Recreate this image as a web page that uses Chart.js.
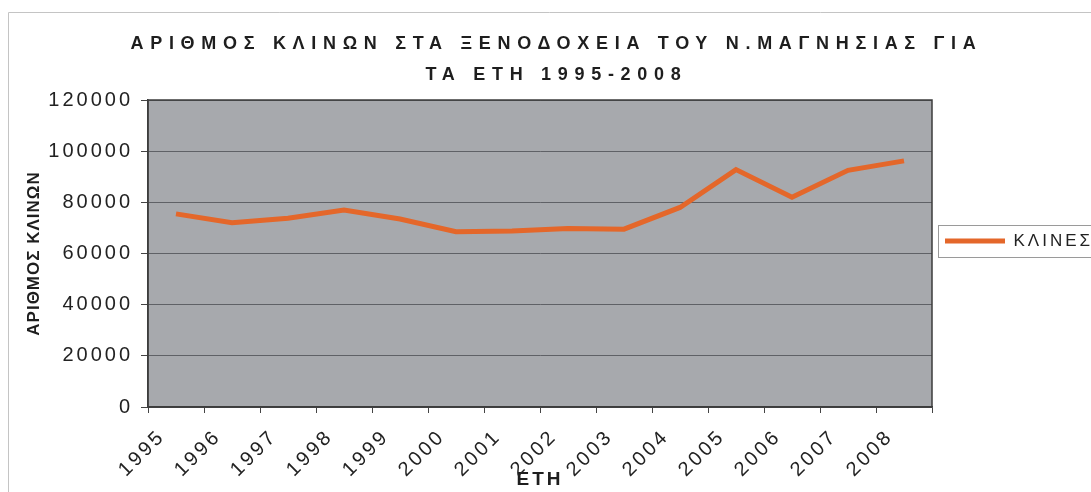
<!DOCTYPE html>
<html>
<head>
<meta charset="utf-8">
<script src="https://cdn.jsdelivr.net/npm/chart.js@4.4.1/dist/chart.umd.min.js"></script>
<style>
html, body { margin: 0; padding: 0; background: #fff; }
#wrap { position: relative; width: 1091px; height: 492px; }
#title {
    position: absolute; left: 0; top: 28px; width: 1069px; padding-left: 22px;
    text-align: center; font: bold 18px "Liberation Sans", Arial, sans-serif;
    letter-spacing: 6.7px; line-height: 31px; color: #1e1e1e;
}
</style>
</head>
<body>
<div id="wrap">
<canvas id="chart" width="1091" height="492"></canvas>
<div id="title">ΑΡΙΘΜΟΣ ΚΛΙΝΩΝ ΣΤΑ ΞΕΝΟΔΟΧΕΙΑ ΤΟΥ Ν.ΜΑΓΝΗΣΙΑΣ ΓΙΑ<br>ΤΑ ΕΤΗ 1995-2008</div>
</div>
<script>
var years = ['1995', '1996', '1997', '1998', '1999', '2000', '2001',
             '2002', '2003', '2004', '2005', '2006', '2007', '2008'];
var beds = [75500, 72000, 73800, 77000, 73500, 68500, 68800,
            69800, 69500, 78000, 92800, 82000, 92500, 96200];
var yMax = 120000;
var yStep = 20000;

var FONT = '"Liberation Sans", Arial, sans-serif';
var SPACING = '3px';

// spacing, plot background, frames, legend box
var plotFrame = {
    id: 'plotFrame',
    beforeUpdate: function(chart) {
        chart.ctx.letterSpacing = SPACING;
    },
    afterLayout: function(chart) {
        var lg = chart.legend;
        lg.top -= 55; lg.bottom -= 55;
        lg.left += 3; lg.right += 3;
    },
    beforeDraw: function(chart) {
        var ctx = chart.ctx, a = chart.chartArea;
        ctx.letterSpacing = SPACING;
        ctx.save();
        ctx.strokeStyle = '#c4c4c4';
        ctx.lineWidth = 1;
        ctx.beginPath();
        ctx.moveTo(8.5, 492); ctx.lineTo(8.5, 12.5); ctx.lineTo(1091, 12.5);
        ctx.stroke();
        ctx.fillStyle = '#a7a9ad';
        ctx.fillRect(a.left, a.top, a.right - a.left, a.bottom - a.top);
        ctx.restore();
    },
    afterDraw: function(chart) {
        var ctx = chart.ctx, a = chart.chartArea;
        ctx.save();
        ctx.strokeStyle = '#3c3c3c';
        ctx.lineWidth = 1.5;
        ctx.strokeRect(a.left, a.top, a.right - a.left, a.bottom - a.top);
        var hb = chart.legend.legendHitBoxes[0];
        if (hb) {
            var cy = hb.top + hb.height / 2;
            ctx.strokeStyle = '#9a9a9a';
            ctx.lineWidth = 1;
            ctx.strokeRect(Math.round(hb.left - 7) + 0.5, Math.round(cy - 16) + 0.5, 1100, 32);
        }
        ctx.restore();
    }
};

// y title is set tighter than the rest
function tightTitle(s) {
    if (s._tight) return;
    var orig = s.drawTitle;
    s.drawTitle = function() {
        var c = this.ctx, old = c.letterSpacing;
        c.letterSpacing = '1px';
        orig.apply(this, arguments);
        c.letterSpacing = old;
    };
    s._tight = true;
}

window.onload = function() {
    Chart.defaults.font.family = FONT;
    Chart.defaults.color = '#222';
    var ctx = document.getElementById('chart').getContext('2d');
    window.myChart = new Chart(ctx, {
        type: 'line',
        data: {
            labels: years,
            datasets: [{
                label: 'ΚΛΙΝΕΣ',
                data: beds,
                borderColor: '#e4672a',
                backgroundColor: '#e4672a',
                borderWidth: 5,
                pointRadius: 0,
                tension: 0,
                fill: false
            }]
        },
        options: {
            responsive: false,
            animation: false,
            layout: { padding: { top: 100, left: 0, right: 0, bottom: 0 } },
            plugins: {
                title: { display: false },
                tooltip: { enabled: false },
                legend: {
                    position: 'right',
                    maxWidth: 159,
                    labels: {
                        usePointStyle: true,
                        pointStyle: 'line',
                        pointStyleWidth: 60,
                        padding: 10,
                        color: '#222',
                        font: { size: 17 }
                    }
                }
            },
            scales: {
                x: {
                    offset: true,
                    grid: { offset: true, drawOnChartArea: false, drawTicks: true, tickLength: 6, color: '#444' },
                    border: { color: '#3c3c3c', width: 1.5 },
                    ticks: {
                        autoSkip: false, minRotation: 45, maxRotation: 45,
                        labelOffset: -14, padding: 12,
                        color: '#222', font: { size: 20 }
                    },
                    title: {
                        display: true, text: 'ΕΤΗ', color: '#1e1e1e',
                        font: { size: 19, weight: 'bold' },
                        padding: { top: 0, bottom: 1 }
                    },
                    afterFit: function(s) { s.height = 85; }
                },
                y: {
                    min: 0,
                    max: yMax,
                    grid: { color: '#5f6166', lineWidth: 1, tickLength: 7, tickColor: '#444' },
                    border: { color: '#3c3c3c', width: 1.5 },
                    ticks: {
                        stepSize: yStep, padding: 8, color: '#222', font: { size: 20 },
                        callback: function(v) { return String(v); }
                    },
                    title: {
                        display: true, text: 'ΑΡΙΘΜΟΣ ΚΛΙΝΩΝ', color: '#1e1e1e',
                        font: { size: 17, weight: 'bold' },
                        padding: { top: 24, bottom: 0 }
                    },
                    afterFit: function(s) { s.width = 148; tightTitle(s); }
                }
            }
        },
        plugins: [plotFrame]
    });
};
</script>
</body>
</html>
